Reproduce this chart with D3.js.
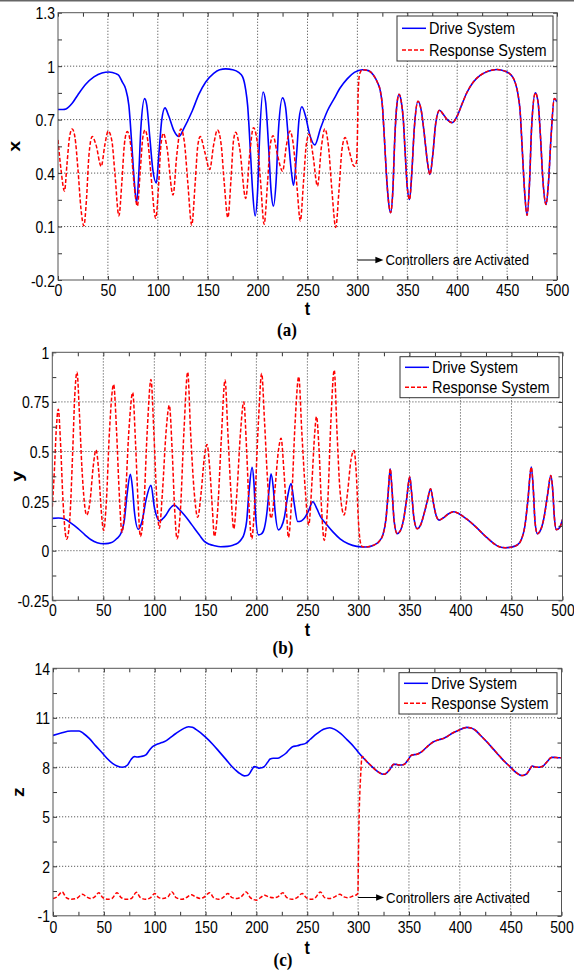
<!DOCTYPE html>
<html><head><meta charset="utf-8">
<script src="https://cdn.jsdelivr.net/npm/d3@7"></script>
<style>
html,body{margin:0;padding:0;background:#fff;}
svg{display:block;}
</style></head><body>
<svg id="fig" width="574" height="978"></svg>
<script>
// ---------- shared axis data ----------
const tTicks = [0, 50, 100, 150, 200, 250, 300, 350, 400, 450, 500];
const tTickLabels = ["0", "50", "100", "150", "200", "250", "300", "350", "400", "450", "500"];
const tMinorTicks = [25, 75, 125, 175, 225, 275, 325, 375, 425, 475];
const controlStart = 300;
const seriesNames = ["Drive System", "Response System"];
const annotationText = "Controllers are Activated";

// ---------- panel (a): x state ----------
const xTicksA = [-0.2, 0.1, 0.4, 0.7, 1, 1.3];
const xTickLabelsA = ["-0.2", "0.1", "0.4", "0.7", "1", "1.3"];
const xMinorA = [-0.05, 0.25, 0.55, 0.85, 1.15];
const xDrive = [
  [0,0.757],[5,0.757],[8,0.76],[14,0.79],[20,0.84],[28,0.9],[36,0.94],[44,0.962],[51,0.967],[58,0.958],
  [61,0.948],[64.5,0.91],[67.7,0.874],[71,0.78],[74.4,0.52],[76.5,0.35],[78.8,0.234],[81,0.4],[83,0.65],
  [86.8,0.818],[89,0.78],[92,0.6],[95,0.42],[98.5,0.345],[101,0.5],[104,0.7],[107.2,0.766],[111,0.72],
  [116,0.64],[121.2,0.605],[126,0.65],[134.6,0.75],[141,0.84],[148,0.911],[156,0.96],[162,0.98],[168,0.985],
  [175,0.98],[181,0.965],[185,0.94],[188,0.87],[190,0.78],[193,0.5],[195,0.3],[197.5,0.16],[200,0.3],
  [202,0.6],[205.5,0.855],[208,0.8],[211,0.55],[213.5,0.3],[215.9,0.215],[218.5,0.35],[221,0.65],[225,0.822],
  [228,0.77],[231,0.58],[234,0.4],[236,0.332],[239,0.5],[241.5,0.7],[244.4,0.772],[248,0.72],[252,0.62],
  [257.3,0.558],[263,0.65],[270,0.75],[276.7,0.818],[283,0.88],[290,0.93],[297,0.965],[305,0.98],[311,0.975],
  [316,0.95],[320,0.91],[323,0.86],[325,0.78],[327,0.6],[329,0.4],[331,0.25],[333.3,0.178],[335.5,0.3],
  [337.5,0.6],[339.5,0.78],[341.7,0.842],[344,0.8],[346,0.7],[348,0.5],[350,0.32],[352.3,0.252],[354.5,0.4],
  [357,0.65],[360.7,0.803],[364,0.75],[367,0.62],[370,0.47],[372.7,0.392],[375.5,0.5],[378.5,0.68],
  [382.3,0.753],[386,0.73],[390,0.7],[395,0.683],[400,0.72],[405,0.79],[410,0.855],[416,0.91],[423,0.948],
  [431,0.972],[440,0.981],[448,0.972],[454,0.95],[458,0.91],[461,0.84],[463,0.75],[465.5,0.5],[467.5,0.3],
  [470,0.163],[472.5,0.35],[474.5,0.65],[478.3,0.85],[481,0.8],[483.5,0.6],[486,0.35],[489,0.224],
  [491.5,0.35],[494,0.6],[497.3,0.818],[500,0.8]
];
const xResponseFree = [
  [0,0.586],[3,0.42],[6.5,0.299],[9,0.45],[11.5,0.6],[14.2,0.648],[17,0.6],[20,0.42],[23,0.2],[25.9,0.104],
  [28.5,0.25],[31,0.5],[34.3,0.605],[38,0.56],[43.3,0.438],[47,0.56],[50.3,0.636],[54,0.58],[57,0.4],[61,0.16],
  [64,0.35],[66.5,0.56],[69.4,0.633],[73,0.55],[76,0.35],[79.5,0.215],[82.5,0.42],[85,0.6],[87.2,0.642],
  [90,0.58],[93,0.4],[97.9,0.147],[101,0.35],[103,0.55],[105.6,0.623],[109,0.55],[115.3,0.277],[119,0.5],
  [123,0.648],[126.5,0.58],[130,0.35],[134,0.109],[137.5,0.35],[140,0.55],[142.5,0.605],[147,0.52],[152,0.42],
  [156,0.56],[159.8,0.642],[163.5,0.56],[166.5,0.35],[170.2,0.15],[173.5,0.38],[175.8,0.58],[178.1,0.629],
  [182,0.54],[188.1,0.258],[192,0.5],[195.8,0.655],[199.5,0.58],[203,0.35],[206.5,0.113],[210,0.35],
  [212.5,0.55],[215.5,0.61],[220,0.5],[225,0.41],[229,0.56],[232.4,0.636],[236,0.55],[239.5,0.32],
  [242.8,0.132],[246,0.35],[248.8,0.56],[251.7,0.618],[255.5,0.5],[260,0.327],[264,0.55],[267.3,0.648],
  [271,0.55],[274.5,0.3],[278.3,0.095],[281.5,0.3],[284.5,0.53],[287.7,0.6],[292,0.52],[296.7,0.438],
  [299,0.46],[300,0.6],[300.8,0.85],[302,0.95],[303.5,0.972],[305,0.98]
];

// ---------- panel (b): y state ----------
const yTicksB = [-0.25, 0, 0.25, 0.5, 0.75, 1];
const yTickLabelsB = ["-0.25", "0", "0.25", "0.5", "0.75", "1"];
const yMinorB = [-0.125, 0.125, 0.375, 0.625, 0.875];
const yDrive = [
  [0,0.163],[6,0.165],[12,0.16],[18,0.14],[25,0.113],[32,0.08],[38,0.055],[44,0.04],[50,0.035],[55,0.037],
  [59,0.043],[63,0.06],[67.3,0.088],[70.5,0.15],[73.2,0.28],[76.5,0.385],[78.5,0.32],[80.4,0.2],[84.3,0.108],
  [88,0.15],[92,0.26],[96.7,0.33],[100,0.22],[104.9,0.15],[108,0.16],[111.4,0.18],[115,0.21],[119.6,0.23],
  [124,0.21],[129.4,0.18],[134,0.15],[139.2,0.113],[144,0.08],[149,0.047],[154,0.032],[158.8,0.025],
  [165,0.02],[171.9,0.022],[177,0.028],[181.7,0.038],[185,0.055],[188.2,0.088],[190.5,0.15],[192.5,0.28],
  [195.8,0.42],[197.5,0.35],[199,0.2],[202,0.08],[205,0.085],[207.8,0.113],[210.5,0.2],[212.3,0.3],
  [214.4,0.388],[216.5,0.32],[218.3,0.2],[221.6,0.105],[224.5,0.12],[227.5,0.17],[230.5,0.27],[234,0.338],
  [237,0.24],[240.5,0.147],[244,0.15],[247,0.163],[251,0.2],[255.4,0.247],[259,0.215],[263,0.17],[268,0.137],
  [275,0.095],[282,0.06],[290,0.035],[298.4,0.022],[307,0.019],[315,0.028],[320,0.045],[324,0.08],[327,0.16],
  [329,0.28],[331.2,0.413],[333,0.3],[335,0.15],[337.9,0.086],[341,0.1],[344,0.15],[347,0.25],[350.3,0.371],
  [352.5,0.27],[354.5,0.16],[357.6,0.111],[361,0.13],[364,0.18],[367.5,0.25],[370.7,0.312],[373.5,0.24],
  [376,0.18],[379.1,0.154],[383,0.165],[388,0.185],[393.5,0.196],[399,0.185],[406,0.16],[415,0.12],
  [424,0.075],[433,0.035],[438,0.02],[443.7,0.015],[450,0.018],[456,0.03],[460,0.06],[463,0.12],[466,0.25],
  [469.4,0.421],[471.5,0.3],[473,0.15],[475.3,0.086],[479,0.11],[482,0.17],[485.3,0.28],[488.5,0.379],
  [490.5,0.3],[492,0.17],[494,0.106],[497,0.115],[500,0.157]
];
const yResponseFree = [
  [0,0.22],[2,0.4],[4,0.62],[5.9,0.713],[8,0.55],[10.5,0.25],[14.1,0.058],[17,0.15],[20,0.5],[22,0.78],
  [24.2,0.9],[26.5,0.7],[29,0.42],[33.7,0.18],[37,0.25],[40,0.42],[42.8,0.508],[45.5,0.4],[48,0.2],[50.3,0.102],
  [53,0.25],[56,0.6],[60.1,0.838],[63,0.6],[65.5,0.3],[68.3,0.093],[71.5,0.25],[75,0.6],[78.8,0.797],
  [81.5,0.55],[84,0.25],[86.3,0.072],[89.5,0.2],[93,0.6],[96.7,0.863],[99.5,0.6],[102,0.3],[104.9,0.113],
  [108,0.3],[111.5,0.6],[114.7,0.733],[117.5,0.5],[120,0.2],[122.2,0.06],[125.5,0.2],[129,0.6],[132.7,0.9],
  [135.5,0.6],[139,0.3],[142.5,0.168],[146,0.3],[149,0.47],[151.6,0.535],[154.5,0.4],[157,0.2],[158.8,0.072],
  [162,0.2],[165.5,0.55],[169.3,0.86],[172,0.6],[175,0.3],[177.8,0.11],[181,0.3],[184.5,0.6],[187.6,0.75],
  [190.5,0.5],[193,0.2],[195.4,0.06],[198.5,0.25],[202,0.65],[205.2,0.893],[208,0.65],[211,0.35],[214.4,0.163],
  [218,0.3],[221.5,0.5],[224.2,0.567],[227,0.4],[229.5,0.2],[231.4,0.067],[234.5,0.25],[238,0.65],
  [241.5,0.877],[244.5,0.6],[248,0.3],[251.3,0.13],[254.5,0.35],[257,0.58],[258.9,0.676],[261.5,0.5],
  [264,0.2],[266.5,0.052],[270,0.25],[273,0.65],[276.3,0.911],[279,0.6],[282,0.3],[286,0.18],[289.5,0.3],
  [292.5,0.45],[295.7,0.505],[298,0.38],[300,0.15],[302,0.04],[304,0.02],[307,0.019]
];

// ---------- panel (c): z state ----------
const zTicksC = [-1, 2, 5, 8, 11, 14];
const zTickLabelsC = ["-1", "2", "5", "8", "11", "14"];
const zMinorC = [0.5, 3.5, 6.5, 9.5, 12.5];
const zDrive = [
  [0,9.93],[8,10.08],[17.7,10.2],[25.7,10.2],[30,10.05],[35.6,9.75],[42,9.3],[48.7,8.85],[53,8.55],[58.5,8.24],
  [63,8.08],[68.4,8.0],[73.3,8.14],[76.5,8.45],[79.8,8.65],[83,8.62],[86.4,8.65],[91.3,8.75],[95,9.05],
  [97.9,9.25],[102.8,9.41],[107,9.5],[111,9.6],[115,9.78],[120.8,10.05],[127,10.3],[133.3,10.46],[137,10.42],
  [140.5,10.3],[145,10.1],[150.3,9.81],[157,9.4],[163.4,8.95],[170,8.48],[176.6,8.0],[182,7.7],[188.1,7.48],
  [191,7.5],[193,7.6],[195.5,7.85],[197.9,8.04],[200.5,8.0],[202.8,7.95],[205,7.97],[207.7,8.04],[211,8.3],
  [213.5,8.5],[216.6,8.55],[220.8,8.55],[225,8.68],[229,8.85],[232,9.05],[235.6,9.25],[240,9.3],[244,9.38],
  [248.4,9.45],[253,9.7],[259.8,10.05],[266,10.3],[272.2,10.4],[277,10.3],[282.7,10.05],[289,9.68],
  [295.8,9.25],[300,8.93],[303.9,8.65],[308.5,8.35],[313.7,8.04],[318,7.8],[323.5,7.6],[326,7.58],[328.4,7.68],
  [331,7.85],[335,8.18],[337.5,8.18],[339.9,8.14],[342.5,8.14],[345.4,8.18],[348.5,8.4],[352.9,8.75],
  [357.8,8.79],[362.7,8.95],[367,9.2],[374.2,9.55],[380,9.68],[384,9.75],[388,9.88],[392.2,10.05],[399,10.25],
  [406.9,10.42],[411,10.38],[415,10.26],[420,9.96],[426.5,9.55],[433,9.1],[439.5,8.65],[444,8.35],
  [449.3,8.04],[455,7.7],[460.8,7.5],[463,7.52],[465.7,7.6],[468.5,7.85],[471.2,8.08],[474,8.02],[477.1,8.0],
  [479.5,8.02],[482,8.08],[486,8.35],[490.2,8.6],[493,8.6],[496.7,8.58],[500,8.58]
];
const zResponseFree = [
  [0,0.05],[4,0.15],[9,0.45],[13,0.1],[18,0.0],[23,0.05],[29,0.3],[33,0.15],[37,0.05],[41,0.15],[45,0.4],
  [49,0.1],[54,0.0],[58,0.05],[63,0.4],[67,0.1],[72,0.0],[77,0.05],[82,0.42],[86,0.1],[91,0.0],[96,0.1],
  [100,0.35],[104,0.1],[108,0.05],[113,0.15],[117,0.45],[121,0.1],[127,0.0],[131,0.1],[136,0.28],[140,0.15],
  [145,0.05],[149,0.15],[154,0.4],[158,0.1],[163,0.0],[167,0.1],[172,0.35],[176,0.1],[181,0.05],[185,0.15],
  [190,0.45],[194,0.1],[200,-0.05],[204,0.1],[208,0.25],[212,0.15],[217,0.1],[221,0.15],[226,0.4],[230,0.1],
  [235,0.0],[240,0.1],[245,0.35],[249,0.1],[254,0.0],[258,0.1],[263,0.45],[267,0.1],[272,0.05],[277,0.15],
  [282,0.3],[286,0.15],[290,0.1],[295,0.2],[299,0.3],[299.8,0.4],[300.4,3],[301,5],[302.5,7.5],[303.9,8.65]
];

// ---------- drawing ----------
const svg = d3.select("#fig");
const SANS = "Arial, 'Liberation Sans', Helvetica, sans-serif";
const SERIF = "'Times New Roman', 'Liberation Serif', Times, serif";
const SY = 1.15;           // vertical stretch applied to all lettering
const BLUE = "#0000ff", RED = "#ff0000";

svg.append("rect").attr("x", 0).attr("y", 0).attr("width", 574).attr("height", 1.5).attr("fill", "#666");

const panels = [
  { id: "a", left: 58, right: 557, top: 12.7, bottom: 280, domain: [-0.2, 1.3],
    ticks: xTicksA, labels: xTickLabelsA, minor: xMinorA, drive: xDrive, resp: xResponseFree,
    yTitle: "x", yTitleX: 16, xLabelOff: 16, tTitleY: 315, sub: "(a)", subX: 287, subY: 336,
    legend: { x: 397, y: 16, w: 156, h: 45, row1: 28.3, gap: 21.7 }, note: 260 },
  { id: "b", left: 52.3, right: 562.5, top: 352.3, bottom: 600.3, domain: [-0.25, 1],
    ticks: yTicksB, labels: yTickLabelsB, minor: yMinorB, drive: yDrive, resp: yResponseFree,
    yTitle: "y", yTitleX: 19, xLabelOff: 16, tTitleY: 635.5, sub: "(b)", subX: 283, subY: 654,
    legend: { x: 400, y: 356.7, w: 159, h: 41, row1: 367.3, gap: 20 }, note: null },
  { id: "c", left: 53, right: 561.5, top: 668.3, bottom: 915.8, domain: [-1, 14],
    ticks: zTicksC, labels: zTickLabelsC, minor: zMinorC, drive: zDrive, resp: zResponseFree,
    yTitle: "z", yTitleX: 20, xLabelOff: 17.5, tTitleY: 953.5, sub: "(c)", subX: 283, subY: 966,
    legend: { x: 399, y: 672.7, w: 158, h: 41.3, row1: 683.3, gap: 20 }, note: 897.5 }
];

panels.forEach(p => {
  const g = svg.append("g").attr("class", "panel-" + p.id);
  const x = d3.scaleLinear().domain([0, 500]).range([p.left, p.right]);
  const y = d3.scaleLinear().domain(p.domain).range([p.bottom, p.top]);
  const W = p.right - p.left, H = p.bottom - p.top;

  const clipId = "clip-" + p.id;
  svg.append("clipPath").attr("id", clipId)
    .append("rect").attr("x", p.left).attr("y", p.top).attr("width", W).attr("height", H);

  // dotted grid at labelled ticks
  const grid = g.append("g").attr("stroke", "#333").attr("stroke-width", 0.8)
    .attr("stroke-dasharray", "1.2,1.8").attr("fill", "none");
  grid.selectAll("line.gx").data(tTicks.slice(1, -1)).join("line").attr("class", "gx")
    .attr("x1", d => x(d)).attr("x2", d => x(d)).attr("y1", p.top).attr("y2", p.bottom);
  grid.selectAll("line.gy").data(p.ticks.slice(1, -1)).join("line").attr("class", "gy")
    .attr("x1", p.left).attr("x2", p.right).attr("y1", d => y(d)).attr("y2", d => y(d));

  // series
  const line = d3.line().x(d => x(d[0])).y(d => y(d[1])).curve(d3.curveMonotoneX);
  const lastFree = p.resp[p.resp.length - 1][0];
  const response = p.resp.concat(p.drive.filter(d => d[0] > lastFree));
  const plot = g.append("g").attr("clip-path", `url(#${clipId})`);
  plot.append("path").datum(p.drive).attr("d", line)
    .attr("fill", "none").attr("stroke", BLUE).attr("stroke-width", 1.6);
  plot.append("path").datum(response).attr("d", line)
    .attr("fill", "none").attr("stroke", RED).attr("stroke-width", 1.5)
    .attr("stroke-dasharray", "4,2");

  // axes: inward ticks on all four sides
  const styleAxis = sel => {
    sel.select(".domain").remove();
    sel.selectAll(".tick line").attr("stroke", "#333");
    sel.attr("font-family", SANS).attr("font-size", 14);
  };
  const bottom = g.append("g").attr("transform", `translate(0,${p.bottom})`)
    .call(d3.axisBottom(x).tickValues(tTicks).tickSize(-4).tickPadding(0)
      .tickFormat((d, i) => tTickLabels[i]));
  styleAxis(bottom);
  bottom.selectAll("text").attr("y", 0).attr("dy", null).attr("fill", "#000")
    .attr("transform", `translate(0,${p.xLabelOff}) scale(1,${SY})`);
  g.append("g").attr("transform", `translate(0,${p.bottom})`)
    .call(d3.axisBottom(x).tickValues(tMinorTicks).tickSize(-4).tickFormat("")).call(styleAxis);
  g.append("g").attr("transform", `translate(0,${p.top})`)
    .call(d3.axisTop(x).tickValues(tTicks.concat(tMinorTicks)).tickSize(-4).tickFormat("")).call(styleAxis);

  const left = g.append("g").attr("transform", `translate(${p.left},0)`)
    .call(d3.axisLeft(y).tickValues(p.ticks).tickSize(-4).tickPadding(0)
      .tickFormat((d, i) => p.labels[i]));
  styleAxis(left);
  left.selectAll("text").attr("x", 0).attr("dy", null).attr("fill", "#000")
    .attr("transform", `translate(-3,6) scale(1,${SY})`);
  g.append("g").attr("transform", `translate(${p.left},0)`)
    .call(d3.axisLeft(y).tickValues(p.minor).tickSize(-4).tickFormat("")).call(styleAxis);
  g.append("g").attr("transform", `translate(${p.right},0)`)
    .call(d3.axisRight(y).tickValues(p.ticks.concat(p.minor)).tickSize(-4).tickFormat("")).call(styleAxis);

  // frame
  g.append("rect").attr("x", p.left).attr("y", p.top).attr("width", W).attr("height", H)
    .attr("fill", "none").attr("stroke", "#555").attr("stroke-width", 1);

  // axis titles
  g.append("text").attr("transform", `translate(${p.yTitleX},${(p.top + p.bottom) / 2}) rotate(-90) scale(${SY},1)`)
    .attr("text-anchor", "middle").attr("dy", "0.26em")
    .attr("font-family", SANS).attr("font-weight", "bold").attr("font-size", 17).text(p.yTitle);
  g.append("text").attr("transform", `translate(${(p.left + p.right) / 2},${p.tTitleY}) scale(1,${SY})`)
    .attr("text-anchor", "middle").attr("font-family", SANS).attr("font-weight", "bold")
    .attr("font-size", 16).text("t");
  g.append("text").attr("transform", `translate(${p.subX},${p.subY}) scale(1,${SY})`)
    .attr("text-anchor", "middle").attr("font-family", SERIF).attr("font-weight", "bold")
    .attr("font-size", 17).text(p.sub);

  // legend
  const L = p.legend;
  const lg = g.append("g");
  lg.append("rect").attr("x", L.x).attr("y", L.y).attr("width", L.w).attr("height", L.h)
    .attr("fill", "#fff").attr("stroke", "#333").attr("stroke-width", 1);
  const rows = [
    { name: seriesNames[0], color: BLUE, dash: null },
    { name: seriesNames[1], color: RED, dash: "4,2" }
  ];
  rows.forEach((r, i) => {
    const ry = L.row1 + i * L.gap;
    lg.append("line").attr("x1", L.x + 5).attr("x2", L.x + 29).attr("y1", ry).attr("y2", ry)
      .attr("stroke", r.color).attr("stroke-width", 1.5).attr("stroke-dasharray", r.dash);
    lg.append("text").attr("transform", `translate(${L.x + 32},${ry + 6}) scale(1,${SY})`)
      .attr("font-family", SANS).attr("font-size", 14.5).attr("fill", "#000").text(r.name);
  });

  // activation note
  if (p.note !== null) {
    const x0 = x(controlStart), tip = x0 + 26;
    g.append("line").attr("x1", x0).attr("x2", tip - 6).attr("y1", p.note).attr("y2", p.note)
      .attr("stroke", "#000").attr("stroke-width", 1);
    g.append("path").attr("d", `M${tip},${p.note} L${tip - 8},${p.note - 3.2} L${tip - 8},${p.note + 3.2} Z`)
      .attr("fill", "#000");
    g.append("text").attr("transform", `translate(${tip + 2},${p.note + 5.3}) scale(1,${SY})`)
      .attr("font-family", SANS).attr("font-size", 13.2).attr("fill", "#000").text(annotationText);
  }
});
</script>
</body></html>
